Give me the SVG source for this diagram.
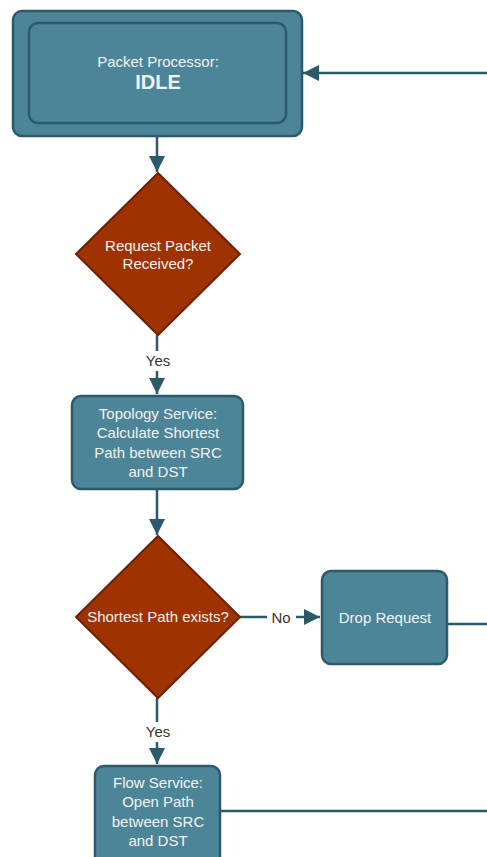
<svg xmlns="http://www.w3.org/2000/svg" width="487" height="857" viewBox="0 0 487 857">
<style>
.box{fill:#4c8597;stroke:#2b5a6b;stroke-width:2.5}
.dia{fill:#9e3200;stroke:#6e2100;stroke-width:2}
.t{font-family:"Liberation Sans",Arial,sans-serif;font-size:15px;fill:#f2f2f2;text-anchor:middle}
.lbl{font-family:"Liberation Sans",Arial,sans-serif;font-size:15px;fill:#3b3226;text-anchor:middle}
.c{fill:none;stroke:#2b5a6b;stroke-width:2.5}
</style>
<defs>
<marker id="ah" viewBox="0 0 10 10" refX="10" refY="5" markerWidth="6.4" markerHeight="6.4" orient="auto" markerUnits="strokeWidth">
<path d="M0,0 L10,5 L0,10 z" fill="#2b5a6b"/>
</marker>
</defs>
<g id="connectors">
<path class="c" d="M157,136 V172" marker-end="url(#ah)"/>
<path class="c" d="M157,335 V351 M157,371 V394" marker-end="url(#ah)"/>
<path class="c" d="M157,489 V535" marker-end="url(#ah)"/>
<path class="c" d="M240,617 H267 M296,617 H320" marker-end="url(#ah)"/>
<path class="c" d="M157,698 V722 M157,742 V764" marker-end="url(#ah)"/>
<path class="c" d="M447,624 H487"/>
<path class="c" d="M220,811 H487"/>
<path class="c" d="M487,73 H303" marker-end="url(#ah)"/>
<text class="lbl" x="158" y="366">Yes</text>
<text class="lbl" x="281" y="623">No</text>
<text class="lbl" x="158" y="737">Yes</text>
</g>
<g id="idle">
<rect class="box" x="13" y="11" width="289" height="125" rx="9"/>
<rect class="box" x="29" y="23" width="257" height="100" rx="9"/>
<text class="t" x="158" y="67">Packet Processor:</text>
<text class="t" x="158" y="89" style="font-size:20px;font-weight:bold">IDLE</text>
</g>
<g id="request-received">
<polygon class="dia" points="158,173 240,254 158,335 76,254"/>
<text class="t" x="158" y="251">Request Packet</text>
<text class="t" x="158" y="269">Received?</text>
</g>
<g id="topology">
<rect class="box" x="72" y="396" width="171" height="93" rx="9"/>
<text class="t" x="158" y="419">Topology Service:</text>
<text class="t" x="158" y="438">Calculate Shortest</text>
<text class="t" x="158" y="458">Path between SRC</text>
<text class="t" x="158" y="477">and DST</text>
</g>
<g id="path-exists">
<polygon class="dia" points="158,536 240,617 158,698 76,617"/>
<text class="t" x="158" y="622">Shortest Path exists?</text>
</g>
<g id="drop">
<rect class="box" x="322" y="571" width="125" height="93" rx="9"/>
<text class="t" x="385" y="623">Drop Request</text>
</g>
<g id="flow">
<rect class="box" x="95" y="766" width="125" height="100" rx="9"/>
<text class="t" x="158" y="788">Flow Service:</text>
<text class="t" x="158" y="807">Open Path</text>
<text class="t" x="158" y="827">between SRC</text>
<text class="t" x="158" y="846">and DST</text>
</g>
</svg>
